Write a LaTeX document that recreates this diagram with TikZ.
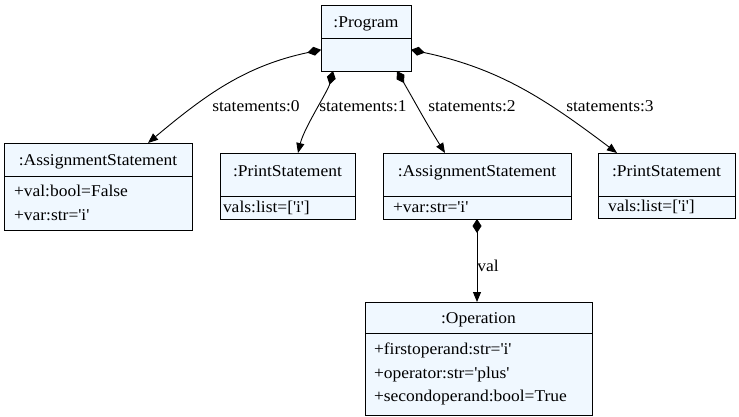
\documentclass[tikz,border=0pt]{standalone}
\usepackage{fontspec}
\setmainfont{Liberation Serif}[FakeStretch=1.06]
\usetikzlibrary{arrows.meta}
\definecolor{umlfill}{HTML}{F0F8FF}
\newcommand{\sq}{\textquotesingle}
\begin{document}
\begin{tikzpicture}[x=1pt,y=1pt,
  every node/.style={font=\fontsize{16.5}{23.5}\selectfont},
  hd/.style={draw, fill=umlfill, line width=0.7pt, outer sep=0pt, anchor=north west, inner sep=0pt},
  bd/.style={draw, fill=umlfill, line width=0.7pt, outer sep=0pt, anchor=north, inner ysep=0pt, align=left},
  short/.style={text height=16pt, text depth=3pt},
  tall/.style={text height=12pt, text depth=9pt},
  comp/.style={line width=0.9pt, {Diamond[length=14pt,width=9pt]}-{Triangle[length=10pt,width=8pt]}},
  lbl/.style={inner sep=1pt}
]
\useasboundingbox (0,0) rectangle (739,-417);
\fill[white] (0,0) rectangle (739,-417);

% Program
\node[hd, short, minimum width=90pt, minimum height=33pt] (progh) at (321,-5) {:Program};
\node[bd, minimum width=90pt, minimum height=33pt, inner xsep=0pt] (progb) at (progh.south) {};

% AssignmentStatement 1
\node[hd, short, minimum width=188pt, minimum height=33pt] (as1h) at (4,-143) {:AssignmentStatement};
\node[bd, minimum height=54pt, inner xsep=10pt, text width=168pt] (as1b) at (as1h.south) {+val:bool=False\\+var:str=\sq i\sq};

% PrintStatement 1
\node[hd, tall, minimum width=135pt, minimum height=43pt] (ps1h) at (220,-153) {:PrintStatement};
\node[bd, minimum height=23pt, inner xsep=3pt, text width=129pt] (ps1b) at (ps1h.south) {vals:list=[\sq i\sq]};

% AssignmentStatement 2
\node[hd, tall, minimum width=188pt, minimum height=43pt] (as2h) at (383,-153) {:AssignmentStatement};
\node[bd, minimum height=23pt, inner xsep=10pt, text width=168pt] (as2b) at (as2h.south) {+var:str=\sq i\sq};

% PrintStatement 2
\node[hd, tall, minimum width=137pt, minimum height=43pt] (ps2h) at (598,-153) {:PrintStatement};
\node[bd, minimum height=22pt, inner xsep=10pt, text width=117pt] (ps2b) at (ps2h.south) {vals:list=[\sq i\sq]};

% Operation
\node[hd, text height=15pt, text depth=4pt, minimum width=227pt, minimum height=31pt] (oph) at (365,-302) {:Operation};
\node[bd, minimum height=82pt, inner xsep=9pt, text width=209pt] (opb) at (oph.south) {+firstoperand:str=\sq i\sq\\+operator:str=\sq plus\sq\\+secondoperand:bool=True};

% connectors
\draw[comp] (progb.174) to[out=192,in=40] ([xshift=50pt]as1h.north);
\draw[comp] ([xshift=-33pt]progb.south) .. controls +(-5,-20) and +(6,25) .. ([xshift=10.5pt]ps1h.north);
\draw[comp] ([xshift=31pt]progb.south) to[out=-60,in=122] ([xshift=-32pt]as2h.north);
\draw[comp] (progb.6) to[out=-12,in=143] ([xshift=-49.5pt]ps2h.north);
\draw[comp] (as2b.south) -- (as2b.south |- oph.north);

% labels
\node[lbl] (l0) at (256,-106) {statements:0};
\node[lbl] (l1) at (363,-106) {statements:1};
\node[lbl] (l2) at (472,-106) {statements:2};
\node[lbl] (l3) at (610,-106) {statements:3};
\node[lbl] (l4) at (488,-266) {val};
\end{tikzpicture}
\end{document}
